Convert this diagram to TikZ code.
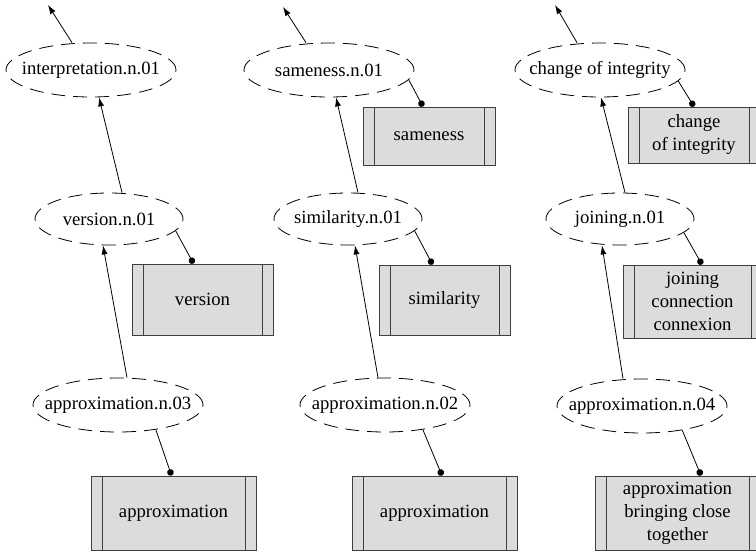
\documentclass[tikz,border=0pt]{standalone}
\usepackage{fontspec}
\setmainfont{Liberation Serif}
\usetikzlibrary{arrows.meta,shapes.geometric}
\definecolor{boxgray}{RGB}{220,220,222}

\begin{document}
\begin{tikzpicture}[
        x=1pt, y=-1pt,
        every node/.style={font=\fontsize{18.7}{23}\selectfont},
        sense/.style={draw, ellipse, dash pattern=on 14pt off 8pt, line width=0.8pt, inner xsep=-40pt, inner ysep=0pt, minimum width=170pt, minimum height=54pt},
        shortsense/.style={minimum width=148pt, minimum height=52pt},
        word/.style={draw=black!75, line width=1pt, fill=boxgray, inner sep=0pt, align=center, minimum width=165pt, minimum height=74pt,
            path picture={
                \draw[black!75, line width=1pt]
                    ([xshift=11pt]path picture bounding box.north west) -- ([xshift=11pt]path picture bounding box.south west)
                    ([xshift=-11pt]path picture bounding box.north east) -- ([xshift=-11pt]path picture bounding box.south east);
            }},
        arrow/.style={-{Latex[length=9pt,width=6pt]}, line width=0.8pt},
        link/.style={-{Circle[length=6.5pt]}, line width=0.8pt}
    ]
        \useasboundingbox (0,0) rectangle (756,552);

        % Primeira coluna
        \node[sense] (interp) at (91,70) {interpretation.n.01};
        \node[sense, shortsense] (version) at (109,219) {version.n.01};
        \node[sense] (approx3) at (118,405) {approximation.n.03};
        \node[word, minimum width=141pt, minimum height=71pt] (versionw) at (202.5,299.5) {version};
        \node[word] (approx3w) at (173.5,513) {approximation};
        \coordinate (interpup) at (48,5);

        % Segunda coluna
        \node[sense] (same) at (329,70) {sameness.n.01};
        \node[sense, shortsense] (simil) at (348,219) {similarity.n.01};
        \node[sense] (approx2) at (385,405) {approximation.n.02};
        \node[word, minimum width=132pt, minimum height=58pt] (samew) at (429,136) {sameness};
        \node[word, minimum width=131pt, minimum height=70pt] (similw) at (444.5,300) {similarity};
        \node[word] (approx2w) at (434.5,513) {approximation};
        \coordinate (sameup) at (283,7);

        % Terceira coluna
        \node[sense] (change) at (600,70) {change of integrity};
        \node[sense, shortsense] (join) at (620,219) {joining.n.01};
        \node[sense] (approx4) at (642,406) {approximation.n.04};
        \node[word, minimum width=132pt, minimum height=56pt] (changew) at (694,135) {change\\of integrity};
        \node[word, minimum width=139pt, minimum height=73pt] (joinw) at (692.5,301.5) {joining\\connection\\connexion};
        \node[word] (approx4w) at (677.5,513) {approximation\\bringing close\\together};
        \coordinate (changeup) at (555,5);

        % Hiperônimos
        \draw[arrow] ([xshift=-19pt]interp.north) -- (interpup);
        \draw[arrow] ([xshift=13pt]version.north) -- ([xshift=8pt]interp.south);
        \draw[arrow] ([xshift=9pt]approx3.north) -- ([xshift=-6pt]version.south);

        \draw[arrow] ([xshift=-23pt]same.north) -- (sameup);
        \draw[arrow] ([xshift=10pt]simil.north) -- ([xshift=7pt]same.south);
        \draw[arrow] ([xshift=-7pt]approx2.north) -- ([xshift=7pt]simil.south);

        \draw[arrow] ([xshift=-23pt]change.north) -- (changeup);
        \draw[arrow] ([xshift=5pt]join.north) -- ([xshift=1pt]change.south);
        \draw[arrow] ([xshift=-19pt]approx4.north) -- ([xshift=-18pt]join.south);

        % Palavras
        \draw[link] (version.-10) -- ([xshift=-9pt]versionw.north);
        \draw[link] (approx3.-33) -- ([xshift=-2pt]approx3w.north);

        \draw[link] (same.-7) -- ([xshift=-6pt]samew.north);
        \draw[link] (simil.-10) -- ([xshift=-12pt]similw.north);
        \draw[link] (approx2.-33) -- ([xshift=7.5pt]approx2w.north);

        \draw[link] (change.-8) -- (changew.north);
        \draw[link] (join.-12) -- ([xshift=9.5pt]joinw.north);
        \draw[link] (approx4.-31) -- ([xshift=23.5pt]approx4w.north);
    \end{tikzpicture}
\end{document}
